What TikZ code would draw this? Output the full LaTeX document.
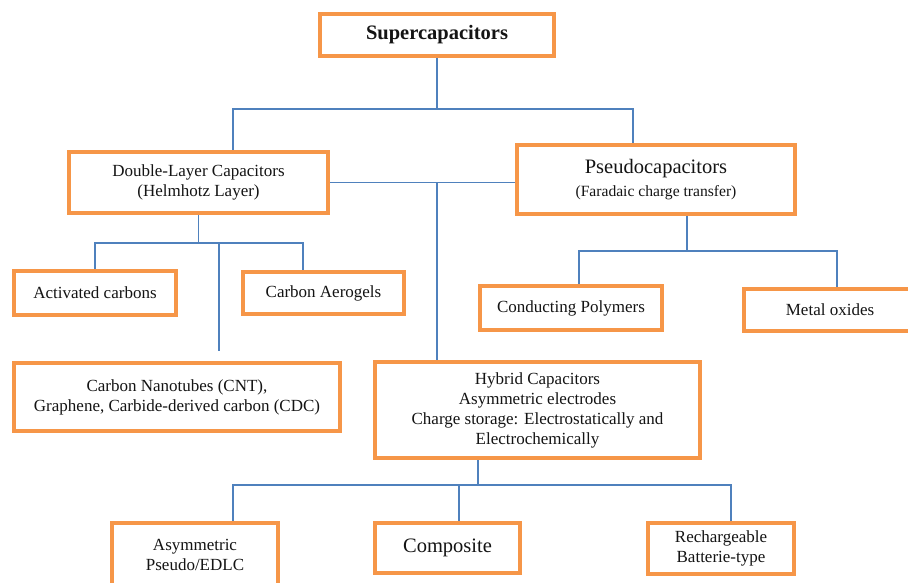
\documentclass[tikz,border=0pt]{standalone}
\usepackage{fontspec}
\setmainfont{Liberation Serif}
\usetikzlibrary{positioning,calc,backgrounds}
\definecolor{edge}{RGB}{246,150,72}
\definecolor{wire}{RGB}{79,129,189}
\definecolor{ink}{RGB}{20,20,20}
\tikzset{
  every picture/.style={color=ink, x=1pt, y=-1pt},
  box/.style={draw=edge, line width=4pt, fill=white, inner sep=0pt, align=center, font=\fontsize{17}{20}\selectfont},
  bigbox/.style={box, font=\fontsize{20.5}{23}\selectfont},
  link/.style={draw=wire, line width=1.6pt},
}

\begin{document}
\begin{tikzpicture}
  \path[use as bounding box, clip] (0,0) rectangle (908,583);
  \node[bigbox, minimum width=234pt, minimum height=42pt, font=\fontsize{20.5}{23}\selectfont\bfseries] (sup) at (437,35) {Supercapacitors};
  \node[box, minimum width=259pt, minimum height=61pt] (dl) at (198.5,182.5) {Double-Layer Capacitors\\(Helmhotz Layer)};
  \node[bigbox, minimum width=278pt, minimum height=69pt] (pc) at (656,179.5) {Pseudocapacitors\\{\fontsize{15.6}{18}\selectfont (Faradaic charge transfer)}};
  \node[box, minimum width=162pt, minimum height=44pt] (ac) at (95,293) {Activated carbons};
  \node[box, minimum width=161pt, minimum height=42pt] (ae) at (323.5,293) {Carbon Aerogels};
  \node[box, minimum width=182pt, minimum height=44pt] (cp) at (571,308) {Conducting Polymers};
  \node[box, minimum width=172pt, minimum height=42pt] (mo) at (830,310) {Metal oxides};
  \node[box, minimum width=326pt, minimum height=68pt] (cnt) at (177,397) {Carbon Nanotubes (CNT),\\Graphene, Carbide-derived carbon (CDC)};
  \node[box, minimum width=325pt, minimum height=96pt] (hy) at (537.5,410) {Hybrid Capacitors\\Asymmetric electrodes\\Charge storage: Electrostatically and\\Electrochemically};
  \node[box, minimum width=166pt, minimum height=64pt] (as) at (195,555) {Asymmetric\\Pseudo/EDLC};
  \node[bigbox, minimum width=145pt, minimum height=50pt] (co) at (447.5,548) {Composite};
  \node[box, minimum width=146pt, minimum height=51pt] (rb) at (721,548.5) {Rechargeable\\Batterie-type};
  \coordinate (jtop) at (437,109);
  \coordinate (jdl) at (200,243);
  \coordinate (jpc) at (687,251);
  \coordinate (jhy) at (478,485);
  \begin{scope}[on background layer]
    \draw[link] (sup) -- (jtop);
    \draw[link] ([xshift=34.5pt]dl.north) |- (jtop) -| ([xshift=-23pt]pc.north);
    \draw[link] (dl.east) -- (dl.east -| pc.west);
    \draw[link] (sup.south |- dl.east) -- (sup.south |- hy.north);
    \draw[link] (dl.south) -- (dl.south |- jdl);
    \draw[link] (ac.north) |- (jdl) -| ([xshift=-20.5pt]ae.north);
    \draw[link, shorten >=10pt] ([xshift=19pt]jdl) -- ([xshift=19pt]jdl |- cnt.north);
    \draw[link] ([xshift=31pt]pc.south) -- (jpc);
    \draw[link] ([xshift=8pt]cp.north) |- (jpc) -| ([xshift=7pt]mo.north);
    \draw[link] ([xshift=-59.5pt]hy.south) -- (jhy);
    \draw[link] ([xshift=38pt]as.north) |- (jhy) -| ([xshift=10pt]rb.north);
    \draw[link] ([xshift=11.5pt]co.north) -- ([xshift=11.5pt]co.north |- jhy);
  \end{scope}
\end{tikzpicture}
\end{document}
